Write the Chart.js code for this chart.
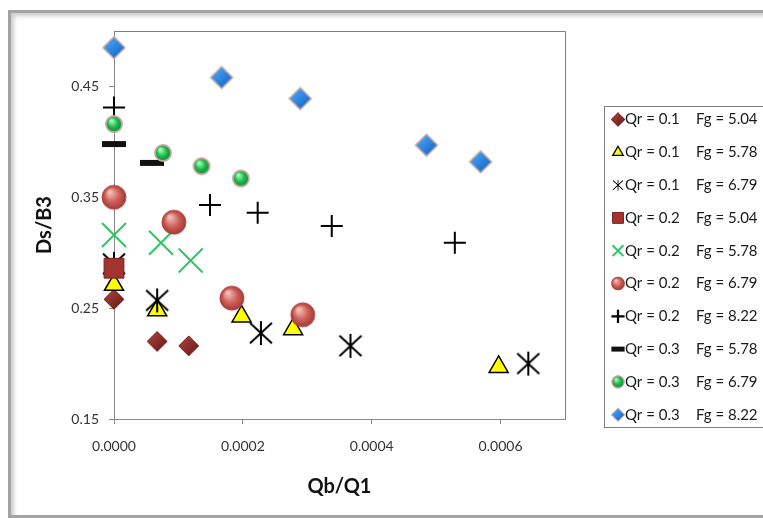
<!DOCTYPE html>
<html>
<head>
<meta charset="utf-8">
<title>Ds/B3 vs Qb/Q1</title>
<script src="https://cdn.jsdelivr.net/npm/chart.js@4.4.0/dist/chart.umd.min.js"></script>
<style>
    body { margin: 0; background: #fff; }
    .frame {
        position: absolute; left: 8px; top: 10px; width: 800px; height: 502px;
        border: 3px solid #a3a3a3; border-right: none;
        box-shadow: inset 3px 3px 4px rgba(0, 0, 0, 0.2);
    }
    .wrap { position: absolute; left: 0; top: 0; width: 763px; height: 518px; }
</style>
</head>
<body>
<div class="frame"></div>
<div class="wrap"><canvas id="myChart"></canvas></div>
<script>
// data
const qr = ['0.1', '0.1', '0.1', '0.2', '0.2', '0.2', '0.2', '0.3', '0.3', '0.3'];
const fg = ['5.04', '5.78', '6.79', '5.04', '5.78', '6.79', '8.22', '5.78', '6.79', '8.22'];
const qbQ1 = [
    [0, 0.000067, 0.000116],
    [0, 0.000067, 0.000198, 0.000278, 0.000597],
    [0, 0.000067, 0.000228, 0.000367, 0.000643],
    [0],
    [0, 0.000073, 0.000119],
    [0, 0.000093, 0.000183, 0.000293],
    [0, 0.000149, 0.000223, 0.000338, 0.000529],
    [0, 0.000059],
    [0, 0.000076, 0.000136, 0.000197],
    [0, 0.000167, 0.000289, 0.000485, 0.000569]
];
const dsB3 = [
    [0.258, 0.220, 0.216],
    [0.271, 0.248, 0.2425, 0.231, 0.197],
    [0.290, 0.257, 0.2275, 0.216, 0.200],
    [0.286],
    [0.316, 0.309, 0.293],
    [0.350, 0.3275, 0.259, 0.244],
    [0.431, 0.343, 0.336, 0.324, 0.309],
    [0.398, 0.381],
    [0.416, 0.390, 0.378, 0.367],
    [0.485, 0.458, 0.439, 0.397, 0.382]
];
const xTicks = [0, 0.0002, 0.0004, 0.0006];
const yTicks = [0.15, 0.25, 0.35, 0.45];

const FONT = 'Lato, "Open Sans", sans-serif';

//marker pictures

const sphere = function (r, light, base, dark, edge, lw) {
    const c = document.createElement('canvas');
    const s = Math.ceil(r * 2 + 4);
    c.width = s;
    c.height = s;
    const g = c.getContext('2d');
    const m = s / 2;
    const grad = g.createRadialGradient(m - r * 0.35, m - r * 0.45, r * 0.1, m, m, r);
    grad.addColorStop(0, light);
    grad.addColorStop(0.55, base);
    grad.addColorStop(1, dark);
    g.beginPath();
    g.arc(m, m, r, 0, Math.PI * 2);
    g.fillStyle = grad;
    g.fill();
    g.lineWidth = lw;
    g.strokeStyle = edge;
    g.stroke();
    return c;
}

const diamond = function (r, light, dark, edge, lw) {
    const c = document.createElement('canvas');
    const s = Math.ceil(r * 2 + 4);
    c.width = s;
    c.height = s;
    const g = c.getContext('2d');
    const m = s / 2;
    const grad = g.createLinearGradient(m - r, m - r, m + r, m + r);
    grad.addColorStop(0, light);
    grad.addColorStop(1, dark);
    g.beginPath();
    g.moveTo(m, m - r);
    g.lineTo(m + r, m);
    g.lineTo(m, m + r);
    g.lineTo(m - r, m);
    g.closePath();
    g.fillStyle = grad;
    g.fill();
    g.lineWidth = lw;
    g.strokeStyle = edge;
    g.stroke();
    return c;
}

const asterisk = function (w, h) {
    const c = document.createElement('canvas');
    c.width = w * 2 + 4;
    c.height = h * 2 + 4;
    const g = c.getContext('2d');
    const mx = c.width / 2, my = c.height / 2;
    g.strokeStyle = '#000';
    g.lineWidth = 2;
    g.beginPath();
    g.moveTo(mx, my - h); g.lineTo(mx, my + h);
    g.moveTo(mx - w, my - h * 0.85); g.lineTo(mx + w, my + h * 0.85);
    g.moveTo(mx + w, my - h * 0.85); g.lineTo(mx - w, my + h * 0.85);
    g.stroke();
    return c;
}

const markers = [
    { pointStyle: diamond(10, '#b0463f', '#661814', '#7a2622', 1), legendScale: 0.7 },
    { pointStyle: 'triangle', radius: 11, backgroundColor: '#ffff00', borderColor: '#000', borderWidth: 1.5, legendScale: 0.55, legendLine: 1.3 },
    { pointStyle: asterisk(11, 12), legendScale: 0.45 },
    { pointStyle: 'rect', radius: 14, backgroundColor: '#a2332f', borderColor: '#7a2020', borderWidth: 1, legendScale: 0.55, legendLine: 1 },
    { pointStyle: 'crossRot', radius: 17, borderColor: '#2dc764', borderWidth: 2, legendScale: 0.45, legendLine: 2 },
    { pointStyle: sphere(12, '#f4bdb9', '#d0605b', '#a33a36', '#b04a46', 1), legendScale: 0.55 },
    { pointStyle: 'cross', radius: 11, borderColor: '#000', borderWidth: 2, legendScale: 0.6, legendLine: 2.2 },
    { pointStyle: 'line', radius: 12, borderColor: '#111', borderWidth: 6, legendScale: 0.55, legendLine: 5 },
    { pointStyle: sphere(8, '#a4ffb8', '#1dbb4e', '#0a8a35', '#c4a49c', 1.8), legendScale: 0.75 },
    { pointStyle: diamond(11, '#55b0ff', '#0b5cc0', '#c8aaa6', 1.5), legendScale: 0.6 }
];

const datasets = qbQ1.map((xs, i) => {
    const m = markers[i];
    return {
        label: 'Qr = ' + qr[i] + '   Fg = ' + fg[i],
        data: xs.map((x, j) => ({ x: x, y: dsB3[i][j] })),
        pointStyle: m.pointStyle,
        pointRadius: m.radius || 10,
        pointHoverRadius: m.radius || 10,
        pointBackgroundColor: m.backgroundColor || '#000',
        pointBorderColor: m.borderColor || '#000',
        pointBorderWidth: m.borderWidth || 1,
        showLine: false,
        clip: false,
        order: 10 - i
    };
});

//plot border (top and right like the excel frame)

const plotBorder = {
    id: 'plotBorder',
    beforeDatasetsDraw(chart) {
        const a = chart.chartArea;
        const ctx = chart.ctx;
        ctx.save();
        ctx.strokeStyle = '#7f7f7f';
        ctx.lineWidth = 1;
        ctx.beginPath();
        ctx.moveTo(a.left, a.top + 0.5);
        ctx.lineTo(a.right + 0.5, a.top + 0.5);
        ctx.lineTo(a.right + 0.5, a.bottom);
        ctx.stroke();
        ctx.restore();
    }
};

//legend box

const boxLegend = {
    id: 'boxLegend',
    afterDraw(chart) {
        const ctx = chart.ctx;
        const left = 604.5, top = 106.5;
        ctx.save();
        ctx.strokeStyle = '#7f7f7f';
        ctx.lineWidth = 1;
        ctx.strokeRect(left, top, 170, 321);
        ctx.font = '15px ' + FONT;
        ctx.textBaseline = 'middle';
        chart.data.datasets.forEach((ds, i) => {
            const y = 119.5 + i * 32.8;
            const m = markers[i];
            ctx.save();
            ctx.translate(618, y);
            ctx.scale(m.legendScale, m.legendScale);
            // drawPoint uses the current fill/stroke/lineWidth
            ctx.fillStyle = ds.pointBackgroundColor;
            ctx.strokeStyle = ds.pointBorderColor;
            ctx.lineWidth = (m.legendLine || ds.pointBorderWidth) / m.legendScale;
            Chart.helpers.drawPoint(ctx, {
                pointStyle: ds.pointStyle,
                radius: ds.pointRadius,
                rotation: 0,
                borderWidth: ds.pointBorderWidth
            }, 0, 0);
            ctx.restore();
            ctx.fillStyle = '#1a1a1a';
            ctx.fillText('Qr = ' + qr[i], 625, y);
            ctx.fillText('Fg = ' + fg[i], 696, y);
        });
        ctx.restore();
    }
};

var ctx = document.getElementById('myChart').getContext('2d');
new Chart(ctx, {
    type: 'scatter',
    data: { datasets: datasets },
    options: {
        responsive: true,
        maintainAspectRatio: false,
        animation: false,
        events: [],
        layout: { padding: { left: 0, top: 31, right: 198, bottom: 0 } },
        plugins: {
            legend: { display: false },
            tooltip: { enabled: false }
        },
        scales: {
            x: {
                type: 'linear',
                min: 0,
                max: 0.0007,
                afterBuildTicks: (scale) => { scale.ticks = xTicks.map(v => ({ value: v })); },
                afterFit: (scale) => { scale.height = 99; },
                grid: { drawOnChartArea: false, drawTicks: true, tickLength: 5, color: '#8a8a8a' },
                border: { color: '#8a8a8a' },
                ticks: {
                    padding: 14,
                    color: '#333',
                    font: { family: FONT, size: 14 },
                    callback: (v) => v.toFixed(4)
                },
                title: {
                    display: true,
                    text: 'Qb/Q1',
                    color: '#111',
                    font: { family: FONT, size: 20, weight: 'bold' },
                    padding: { top: 0, bottom: 19 }
                }
            },
            y: {
                type: 'linear',
                min: 0.15,
                max: 0.5,
                afterBuildTicks: (scale) => { scale.ticks = yTicks.map(v => ({ value: v })); },
                afterFit: (scale) => { scale.width = 114; },
                grid: { drawOnChartArea: false, drawTicks: true, tickLength: 5, color: '#8a8a8a' },
                border: { color: '#8a8a8a' },
                ticks: {
                    padding: 10,
                    color: '#333',
                    font: { family: FONT, size: 14 },
                    callback: (v) => v.toFixed(2)
                },
                title: {
                    display: true,
                    text: 'Ds/B3',
                    color: '#111',
                    font: { family: FONT, size: 20, weight: 'bold' },
                    padding: { top: 33, bottom: 0 }
                }
            }
        }
    },
    plugins: [plotBorder, boxLegend]
});
</script>
</body>
</html>
